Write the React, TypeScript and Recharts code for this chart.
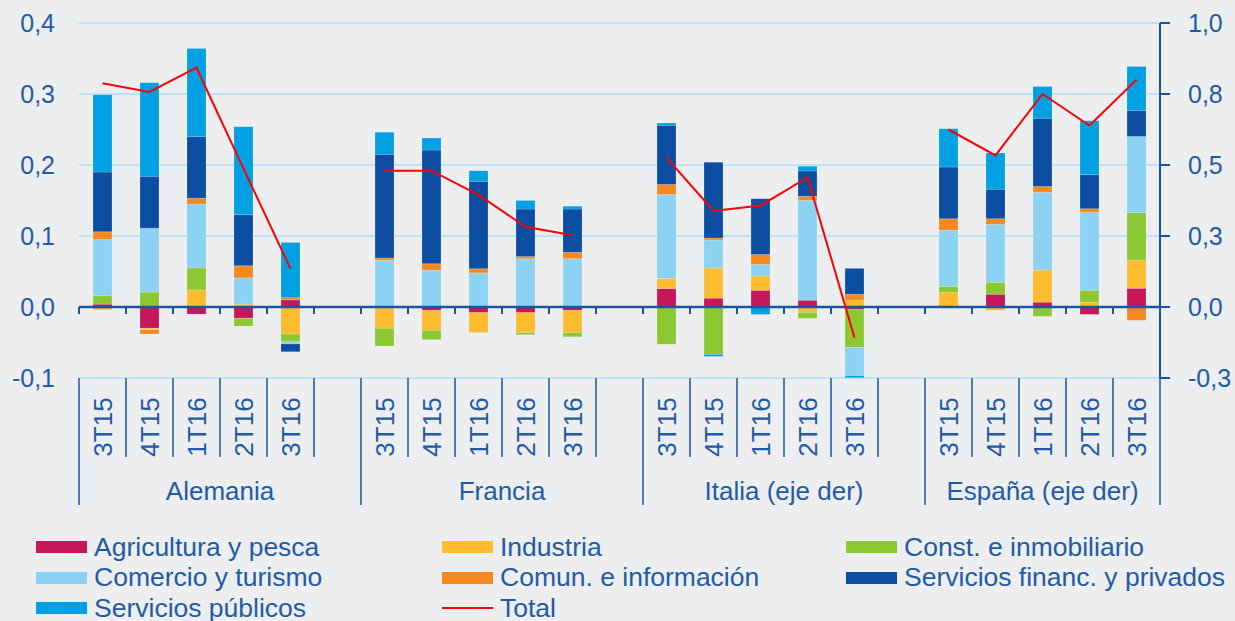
import React from "react";
import { ComposedChart, Bar, Line, XAxis, YAxis, CartesianGrid, ReferenceLine } from "recharts";

const GROUPS = ["Alemania", "Francia", "Italia (eje der)", "España (eje der)"];
const QUARTERS = ["3T15", "4T15", "1T16", "2T16", "3T16"];
// Italia and España are read on the right axis
const RIGHT_AXIS = [false, false, true, true];

// 20 values each: Alemania, Francia, Italia, España (5 quarters per country)
const agricultura = [
  0.004, -0.03, -0.01, -0.016, 0.01,
  0, -0.005, -0.008, -0.008, -0.005,
  0.065, 0.031, 0.059, 0.024, -0.009,
  0, 0.045, 0.017, -0.026, 0.066,
];
const industria = [
  -0.004, -0.002, 0.024, 0.004, -0.038,
  -0.03, -0.028, -0.028, -0.028, -0.031,
  0.035, 0.106, 0.05, -0.019, 0.024,
  0.052, -0.012, 0.113, 0.017, 0.099,
];
const construccion = [
  0.012, 0.021, 0.031, -0.011, -0.011,
  -0.025, -0.013, 0, -0.003, -0.006,
  -0.131, -0.167, 0, -0.021, -0.134,
  0.021, 0.042, -0.033, 0.042, 0.167,
];
const comercio = [
  0.079, 0.09, 0.09, 0.037, -0.003,
  0.066, 0.052, 0.048, 0.068, 0.068,
  0.296, 0.099, 0.041, 0.352, -0.099,
  0.197, 0.204, 0.274, 0.275, 0.268,
];
const comunicacion = [
  0.011, -0.006, 0.008, 0.017, 0.003,
  0.003, 0.009, 0.006, 0.003, 0.009,
  0.035, 0.007, 0.035, 0.014, 0.021,
  0.041, 0.02, 0.02, 0.012, -0.047,
];
const financieros = [
  0.084, 0.073, 0.087, 0.072, -0.011,
  0.146, 0.16, 0.123, 0.067, 0.061,
  0.209, 0.267, 0.196, 0.089, 0.091,
  0.182, 0.104, 0.241, 0.12, 0.092,
];
const publicos = [
  0.109, 0.132, 0.124, 0.124, 0.078,
  0.031, 0.017, 0.015, 0.012, 0.004,
  0.008, -0.007, -0.026, 0.017, -0.007,
  0.135, 0.127, 0.111, 0.19, 0.155,
];
const total = [
  0.315, 0.303, 0.337, 0.195, 0.054,
  0.192, 0.192, 0.158, 0.113, 0.101,
  0.526, 0.338, 0.357, 0.456, -0.108,
  0.625, 0.534, 0.75, 0.639, 0.8,
];

const LEFT_TICKS = [-0.1, 0, 0.1, 0.2, 0.3, 0.4];
const RIGHT_TICKS = [-0.25, 0, 0.25, 0.5, 0.75, 1.0];

const SERIES = [
  { key: "agricultura", name: "Agricultura y pesca", color: "#c7175b", values: agricultura },
  { key: "industria", name: "Industria", color: "#fdbb2f", values: industria },
  { key: "construccion", name: "Const. e inmobiliario", color: "#8cc832", values: construccion },
  { key: "comercio", name: "Comercio y turismo", color: "#8cd2f2", values: comercio },
  { key: "comunicacion", name: "Comun. e información", color: "#f5891f", values: comunicacion },
  { key: "financieros", name: "Servicios financ. y privados", color: "#0b4ea2", values: financieros },
  { key: "publicos", name: "Servicios públicos", color: "#00a0e3", values: publicos },
];

const TEXT = "#1f5ba8";
const AXIS = "#1a55a3";
const GRID = "#bfe3f5";
const BG = "#eceef0";

const W = 1235;
const H = 621;
const M_TOP = 23;
const LEFT_W = 79;
const RIGHT_W = 75;
const XAXIS_H = 243;
const PLOT_W = W - LEFT_W - RIGHT_W;
const PLOT_H = H - M_TOP - XAXIS_H;
const LEFT_MIN = -0.1;
const LEFT_MAX = 0.4;
const RIGHT_MAX = 1.0;
const RIGHT_TO_LEFT = LEFT_MAX / RIGHT_MAX;

// build rows: 5 quarters per country plus an empty slot between countries
const rows: any[] = [];
const groupInfo: { start: number; span: number }[] = [];
GROUPS.forEach((g, gi) => {
  const start = rows.length;
  const f = RIGHT_AXIS[gi] ? RIGHT_TO_LEFT : 1;
  QUARTERS.forEach((q, qi) => {
    const i = gi * QUARTERS.length + qi;
    const row: any = { key: `${g}-${q}`, quarter: q };
    SERIES.forEach((s) => {
      row[s.key] = s.values[i] * f;
    });
    row.total = total[i] * f;
    rows.push(row);
  });
  if (gi < GROUPS.length - 1) rows.push({ key: `gap-${gi}`, quarter: "" });
  groupInfo.push({ start, span: rows.length - start });
});

const SLOT = PLOT_W / rows.length;
const ZERO_UP = (PLOT_H * (0 - LEFT_MIN)) / (LEFT_MAX - LEFT_MIN);

const fmtLeft = (v: number) => v.toFixed(1).replace(".", ",");
const fmtRight = (v: number) => v.toFixed(1).replace(".", ",");

const CategoryTick = (props: any) => {
  const { x, y, index } = props;
  const row = rows[index];
  if (!row) return null;
  const x0 = x - SLOT / 2;
  const gi = groupInfo.findIndex((g) => g.start === index);
  const isLast = index === rows.length - 1;
  return (
    <g>
      <line x1={x0} x2={x0} y1={y - ZERO_UP} y2={y - ZERO_UP + 7} stroke={AXIS} strokeWidth={2} />
      <line x1={x0} x2={x0} y1={y} y2={y + (gi >= 0 ? 127 : 79)} stroke={AXIS} strokeWidth={1.5} />
      {isLast && (
        <>
          <line x1={x0 + SLOT} x2={x0 + SLOT} y1={y - ZERO_UP} y2={y - ZERO_UP + 7} stroke={AXIS} strokeWidth={2} />
          <line x1={x0 + SLOT} x2={x0 + SLOT} y1={y} y2={y + 127} stroke={AXIS} strokeWidth={1.5} />
        </>
      )}
      {row.quarter && (
        <text
          x={x}
          y={y + 49}
          transform={`rotate(-90 ${x} ${y + 49})`}
          textAnchor="middle"
          dominantBaseline="central"
          fill={TEXT}
          fontSize={26}
        >
          {row.quarter}
        </text>
      )}
      {gi >= 0 && (
        <text
          x={x0 + (groupInfo[gi].span * SLOT) / 2}
          y={y + 113}
          textAnchor="middle"
          dominantBaseline="central"
          fill={TEXT}
          fontSize={26}
        >
          {GROUPS[gi]}
        </text>
      )}
    </g>
  );
};

const LEGEND = [
  { name: "Agricultura y pesca", color: "#c7175b", col: 0, row: 0 },
  { name: "Industria", color: "#fdbb2f", col: 1, row: 0 },
  { name: "Const. e inmobiliario", color: "#8cc832", col: 2, row: 0 },
  { name: "Comercio y turismo", color: "#8cd2f2", col: 0, row: 1 },
  { name: "Comun. e información", color: "#f5891f", col: 1, row: 1 },
  { name: "Servicios financ. y privados", color: "#0b4ea2", col: 2, row: 1 },
  { name: "Servicios públicos", color: "#00a0e3", col: 0, row: 2 },
  { name: "Total", color: "#ff0000", col: 1, row: 2, line: true },
];
const LEGEND_COLS = [36, 442, 846];

export default function App() {
  return (
    <div
      style={{
        position: "absolute",
        left: 0,
        top: 0,
        width: W,
        height: H,
        background: BG,
        fontFamily: "'Liberation Sans', Arial, sans-serif",
        overflow: "hidden",
      }}
    >
      <ComposedChart
        width={W}
        height={H}
        data={rows}
        stackOffset="sign"
        barSize={19}
        margin={{ top: M_TOP, right: 0, bottom: 0, left: 0 }}
      >
        <CartesianGrid vertical={false} stroke={GRID} strokeWidth={2} />
        <XAxis
          dataKey="key"
          height={XAXIS_H}
          axisLine={false}
          tickLine={false}
          tickSize={0}
          tickMargin={0}
          interval={0}
          tick={<CategoryTick />}
        />
        <YAxis
          domain={[LEFT_MIN, LEFT_MAX]}
          ticks={LEFT_TICKS}
          allowDataOverflow
          width={LEFT_W}
          axisLine={false}
          tickLine={false}
          tickSize={0}
          tickMargin={24}
          tickFormatter={fmtLeft}
          tick={{ fill: TEXT, fontSize: 25 }}
        />
        <YAxis
          yAxisId="right"
          orientation="right"
          domain={[-0.25, RIGHT_MAX]}
          ticks={RIGHT_TICKS}
          allowDataOverflow
          width={RIGHT_W}
          axisLine={{ stroke: AXIS, strokeWidth: 2 }}
          tickLine={{ stroke: AXIS, strokeWidth: 2 }}
          tickSize={10}
          tickMargin={18}
          tickFormatter={fmtRight}
          tick={{ fill: TEXT, fontSize: 25 }}
        />
        {SERIES.map((s) => (
          <Bar
            key={s.key}
            dataKey={s.key}
            name={s.name}
            stackId="a"
            fill={s.color}
            stroke="#ffffff"
            strokeOpacity={0.35}
            strokeWidth={0.5}
            isAnimationActive={false}
          />
        ))}
        <ReferenceLine y={0} stroke={AXIS} strokeWidth={2.5} />
        <Line
          dataKey="total"
          name="Total"
          type="linear"
          stroke="#ff0000"
          strokeWidth={2}
          dot={false}
          activeDot={false}
          connectNulls={false}
          isAnimationActive={false}
        />
      </ComposedChart>
      {LEGEND.map((item) => (
        <div
          key={item.name}
          style={{
            position: "absolute",
            left: LEGEND_COLS[item.col],
            top: 532 + item.row * 30.5,
            height: 30,
            display: "flex",
            alignItems: "center",
            color: TEXT,
            fontSize: 26.5,
            whiteSpace: "nowrap",
          }}
        >
          <span
            style={{
              display: "inline-block",
              width: 51,
              height: item.line ? 2 : 12,
              background: item.color,
              marginRight: 7,
            }}
          />
          {item.name}
        </div>
      ))}
    </div>
  );
}
